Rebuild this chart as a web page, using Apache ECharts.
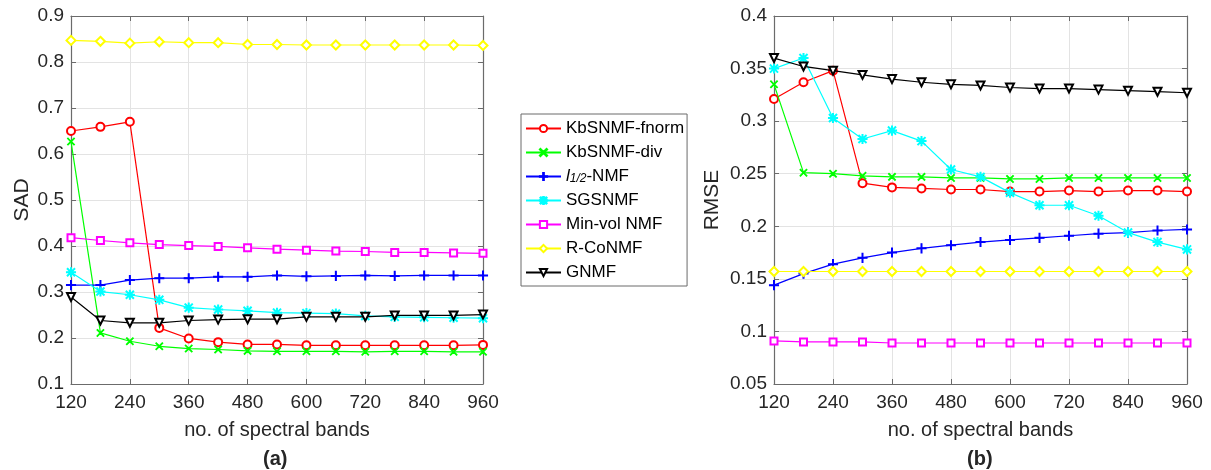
<!DOCTYPE html>
<html>
<head>
<meta charset="utf-8">
<script src="https://cdn.jsdelivr.net/npm/echarts@6/dist/echarts.min.js"></script>
<style>
html,body{margin:0;padding:0;background:#fff;}
#chart{width:1211px;height:470px;}
</style>
</head>
<body>
<div id="chart"></div>
<script>
var bands = [120,180,240,300,360,420,480,540,600,660,720,780,840,900,960];
var xTicks = [120,240,360,480,600,720,840,960];
var seriesNames = ['KbSNMF-fnorm','KbSNMF-div','l1/2-NMF','SGSNMF','Min-vol NMF','R-CoNMF','GNMF'];

// (a) SAD
var sadFnorm  = [0.650,0.659,0.670,0.222,0.199,0.191,0.186,0.186,0.184,0.184,0.184,0.184,0.184,0.184,0.185];
var sadDiv    = [0.627,0.211,0.193,0.182,0.177,0.175,0.172,0.171,0.171,0.171,0.170,0.171,0.171,0.170,0.170];
var sadL12    = [0.315,0.315,0.326,0.330,0.330,0.333,0.333,0.336,0.334,0.335,0.336,0.335,0.336,0.336,0.336];
var sadSGS    = [0.343,0.301,0.294,0.283,0.266,0.262,0.259,0.255,0.254,0.253,0.248,0.246,0.245,0.244,0.243];
var sadMinvol = [0.418,0.412,0.407,0.403,0.401,0.399,0.396,0.393,0.391,0.389,0.388,0.386,0.386,0.385,0.384];
var sadRCo    = [0.847,0.845,0.841,0.844,0.842,0.842,0.838,0.838,0.837,0.837,0.837,0.837,0.837,0.837,0.836];
var sadGNMF   = [0.289,0.238,0.233,0.233,0.238,0.240,0.241,0.241,0.246,0.246,0.246,0.249,0.249,0.249,0.251];

// (b) RMSE
var rmseFnorm  = [0.321,0.337,0.348,0.241,0.237,0.236,0.235,0.235,0.233,0.233,0.234,0.233,0.234,0.234,0.233];
var rmseDiv    = [0.335,0.251,0.250,0.248,0.247,0.247,0.246,0.246,0.245,0.245,0.246,0.246,0.246,0.246,0.246];
var rmseL12    = [0.144,0.155,0.164,0.170,0.175,0.179,0.182,0.185,0.187,0.189,0.191,0.193,0.194,0.196,0.197];
var rmseSGS    = [0.350,0.360,0.303,0.283,0.291,0.281,0.254,0.247,0.232,0.220,0.220,0.210,0.194,0.185,0.178];
var rmseMinvol = [0.091,0.090,0.090,0.090,0.089,0.089,0.089,0.089,0.089,0.089,0.089,0.089,0.089,0.089,0.089];
var rmseRCo    = [0.157,0.157,0.157,0.157,0.157,0.157,0.157,0.157,0.157,0.157,0.157,0.157,0.157,0.157,0.157];
var rmseGNMF   = [0.360,0.352,0.348,0.344,0.340,0.337,0.335,0.334,0.332,0.331,0.331,0.330,0.329,0.328,0.327];

var colors = ['#ff0000','#00ff00','#0000ff','#00ffff','#ff00ff','#ffff00','#000000'];
var X_PATH = 'path://M1.5,0 L10,8.5 L18.5,0 L20,1.5 L11.5,10 L20,18.5 L18.5,20 L10,11.5 L1.5,20 L0,18.5 L8.5,10 L0,1.5 Z';
var PLUS_PATH = 'path://M9,0 L11,0 L11,9 L20,9 L20,11 L11,11 L11,20 L9,20 L9,11 L0,11 L0,9 L9,9 Z';
var AST_PATH = 'path://M9,0 L11,0 L11,9 L20,9 L20,11 L11,11 L11,20 L9,20 L9,11 L0,11 L0,9 L9,9 Z M2.6,1.2 L10,8.6 L17.4,1.2 L18.8,2.6 L11.4,10 L18.8,17.4 L17.4,18.8 L10,11.4 L2.6,18.8 L1.2,17.4 L8.6,10 L1.2,2.6 Z';
var symbols = ['emptyCircle', X_PATH, PLUS_PATH, AST_PATH, 'emptyRect', 'emptyDiamond', 'emptyTriangle'];
var symSizes = [8, 7, 9, 9, 7, 9, 8];
var symRot = [0,0,0,0,0,0,180];

function pairs(arr){ return bands.map(function(b,i){ return [b, arr[i]]; }); }

var FONT = '"Liberation Sans", Arial, Helvetica, sans-serif';
var AX = '#6b6b6b';
var TXT = '#262626';

function mkSeries(dataArrs, gi){
  return dataArrs.map(function(arr, k){
    return {
      name: seriesNames[k], type: 'line', xAxisIndex: gi*2, yAxisIndex: gi*2,
      data: pairs(arr), symbol: symbols[k], symbolSize: symSizes[k], symbolRotate: symRot[k],
      showAllSymbol: true, animation: false, z: 3 + k,
      lineStyle: {color: colors[k], width: 1.2},
      itemStyle: {color: colors[k], borderColor: colors[k], borderWidth: 1.1}
    };
  });
}

function xAx(gi, pos){
  var main = pos === 'bottom';
  return {
    type: 'value', gridIndex: gi, min: 120, max: 960, interval: 120, position: pos,
    name: main ? 'no. of spectral bands' : '', nameLocation: 'middle', nameGap: 36,
    nameTextStyle: {fontFamily: FONT, fontSize: 20, color: TXT},
    axisLine: {show: true, onZero: false, lineStyle: {color: AX, width: 1.2}},
    axisTick: {show: true, inside: true, length: 5, lineStyle: {color: AX}},
    axisLabel: {show: main, margin: 9, fontFamily: FONT, fontSize: 19, color: TXT},
    splitLine: {show: main, lineStyle: {color: '#e3e3e3', width: 1}}
  };
}
function yAx(gi, pos, min, max, step, name, gap){
  var main = pos === 'left';
  return {
    type: 'value', gridIndex: gi, min: min, max: max, interval: step, position: pos,
    name: main ? name : '', nameLocation: 'middle', nameGap: gap, nameRotate: 90,
    nameTextStyle: {fontFamily: FONT, fontSize: 21, color: TXT},
    axisLine: {show: true, onZero: false, lineStyle: {color: AX, width: 1.2}},
    axisTick: {show: true, inside: true, length: 5, lineStyle: {color: AX}},
    axisLabel: {show: main, margin: 7, fontFamily: FONT, fontSize: 19, color: TXT,
      formatter: function(v){ return String(Math.round(v*100)/100); }},
    splitLine: {show: main, lineStyle: {color: '#e3e3e3', width: 1}}
  };
}

var chart = echarts.init(document.getElementById('chart'), null, {renderer: 'canvas'});
var option = {
  backgroundColor: '#ffffff',
  animation: false,
  grid: [
    {left: 71, right: 728, top: 16, bottom: 86},
    {left: 774, right: 24, top: 16, bottom: 86}
  ],
  xAxis: [xAx(0,'bottom'), xAx(0,'top'), xAx(1,'bottom'), xAx(1,'top')],
  yAxis: [
    yAx(0,'left',0.1,0.9,0.1,'SAD',38), yAx(0,'right',0.1,0.9,0.1,'',0),
    yAx(1,'left',0.05,0.4,0.05,'RMSE',51), yAx(1,'right',0.05,0.4,0.05,'',0)
  ],
  legend: {
    orient: 'vertical', left: 521, top: 114,
    padding: [6, 3, 5, 4], itemGap: 7, itemWidth: 35, itemHeight: 9,
    borderColor: '#6b6b6b', borderWidth: 1, backgroundColor: '#fff',
    data: seriesNames,
    textStyle: {fontFamily: FONT, fontSize: 17, lineHeight: 17, color: '#000',
      rich: {
        it: {fontFamily: FONT, fontSize: 17, lineHeight: 17, fontStyle: 'italic', color: '#000'},
        sub: {fontFamily: FONT, fontSize: 12, lineHeight: 12, fontStyle: 'italic', color: '#000', verticalAlign: 'bottom', padding: [5,0,0,0]},
        n: {fontFamily: FONT, fontSize: 17, lineHeight: 17, color: '#000'}
      }
    },
    formatter: function(name){
      if (name === 'l1/2-NMF') return '{it|l}{sub|1/2}{n|-NMF}';
      return name;
    }
  },
  graphic: [
    {type: 'text', left: 277 - 14, top: 449, style: {text: '(a)', font: 'bold 20px ' + FONT, fill: TXT}},
    {type: 'text', left: 981 - 14, top: 449, style: {text: '(b)', font: 'bold 20px ' + FONT, fill: TXT}}
  ],
  series: mkSeries([sadFnorm,sadDiv,sadL12,sadSGS,sadMinvol,sadRCo,sadGNMF], 0)
    .concat(mkSeries([rmseFnorm,rmseDiv,rmseL12,rmseSGS,rmseMinvol,rmseRCo,rmseGNMF], 1))
};
chart.setOption(option);
</script>
</body>
</html>
